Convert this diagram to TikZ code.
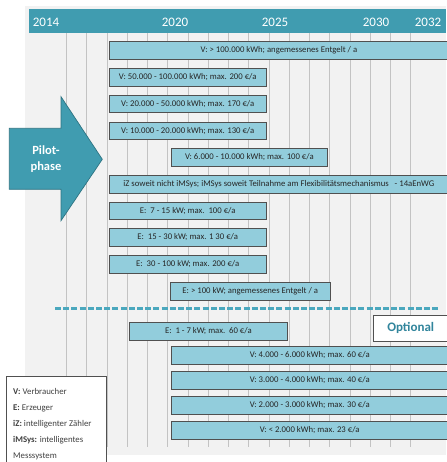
\documentclass[tikz,border=0pt]{standalone}
\usepackage{fontspec}
\setmainfont{Carlito}
\usepackage{tikz}

\definecolor{panelgray}{RGB}{242,242,242}
\definecolor{headteal}{RGB}{64,156,176}
\definecolor{arrowedge}{RGB}{45,115,130}
\definecolor{barblue}{RGB}{146,205,220}
\definecolor{bargray}{RGB}{80,80,80}
\definecolor{gridgray}{RGB}{195,195,195}
\definecolor{dashteal}{RGB}{75,168,190}
\definecolor{optteal}{RGB}{49,133,156}
\definecolor{keygray}{RGB}{64,64,64}

\begin{document}
\begin{tikzpicture}[x=1pt,y=1pt]
\tikzstyle{every node}+=[inner sep=0pt]
\tikzstyle{bar}=[draw=bargray, line width=0.8pt, fill=barblue, minimum height=17.7pt, anchor=west, text=black!85, font=\fontsize{8.7}{10}\selectfont]
\tikzstyle{year}=[text=white, font=\fontsize{13}{15}\selectfont]
\useasboundingbox (0,0) rectangle (446,-462);
% panel and time axis
\fill [panelgray] (25,-6) rectangle (446,-455);
\fill [headteal] (29.3,-9) rectangle (446,-33.3);
\draw (46,-22) node [year] (y2014) {2014};
\draw (175,-22) node [year] (y2020) {2020};
\draw (275,-22) node [year] (y2025) {2025};
\draw (376,-22) node [year] (y2030) {2030};
\draw (428,-22) node [year] (y2032) {2032};
\foreach \i in {0,...,17}
  \draw [gridgray, line width=1pt] (66.7+20.25*\i,-33.3) -- (66.7+20.25*\i,-447);
% pilot phase
\draw [arrowedge, fill=headteal, line width=0.7pt] (9.3,-128.3) -- (61,-128.3) -- (61,-96.7) -- (102.3,-159.3) -- (61,-220.7) -- (61,-189.3) -- (9.3,-189.3) -- cycle;
\draw (46,-159.3) node [text=white, align=center, font=\bfseries\fontsize{12.5}{16.3}\selectfont] (pilot) {Pilot-\\phase};
% bars
\node [bar, minimum width=339pt] (v100k) at (109,-50.5) {V: > 100.000 kWh; angemessenes Entgelt / a};
\node [bar, minimum width=156.7pt] (v50k) at (109,-77.3) {V: 50.000 - 100.000 kWh; max. 200 €/a};
\node [bar, minimum width=156.7pt] (v20k) at (109,-104) {V: 20.000 - 50.000 kWh; max. 170 €/a};
\node [bar, minimum width=156.7pt] (v10k) at (109,-131) {V: 10.000 - 20.000 kWh; max. 130 €/a};
\node [bar, minimum width=156.6pt] (v6k) at (170.7,-157.2) {V: 6.000 - 10.000 kWh; max. 100 €/a};
\node [bar, minimum width=339pt] (iz) at (109,-184.3) {iZ soweit nicht iMSys; iMSys soweit Teilnahme am Flexibilitätsmechanismus\ \ \ - 14aEnWG};
\node [bar, minimum width=156.7pt] (e7) at (109,-211) {E:\ \ 7 - 15 kW; max.\ \ 100 €/a};
\node [bar, minimum width=156.7pt] (e15) at (109,-237.5) {E:\ \ 15 - 30 kW; max. 1 30 €/a};
\node [bar, minimum width=156.7pt] (e30) at (109,-264.2) {E:\ \ 30 - 100 kW; max. 200 €/a};
\node [bar, minimum width=160.3pt] (e100) at (169.7,-291.2) {E: > 100 kW; angemessenes Entgelt / a};
% optional part
\draw [dashteal, line width=3pt, dash pattern=on 6pt off 2.2pt] (55,-308.3) -- (439.3,-308.3);
\node [draw=bargray, line width=0.8pt, fill=white, minimum width=74pt, minimum height=25.7pt, anchor=north west, text=optteal, font=\bfseries\fontsize{13}{15}\selectfont] (opt) at (373.3,-315) {Optional};
\node [bar, minimum width=157.4pt] (e1) at (129.3,-331.2) {E:\ \ 1 - 7 kW; max.\ \ 60 €/a};
\node [bar, minimum width=277.3pt] (v4k) at (170.7,-355.5) {V: 4.000 - 6.000 kWh; max. 60 €/a};
\node [bar, minimum width=277.3pt] (v3k) at (170.7,-380.5) {V: 3.000 - 4.000 kWh; max. 40 €/a};
\node [bar, minimum width=277.3pt] (v2k) at (170.7,-405.2) {V: 2.000 - 3.000 kWh; max. 30 €/a};
\node [bar, minimum width=277.3pt] (v0k) at (170.7,-430.2) {V: < 2.000 kWh; max. 23 €/a};
% key
\draw [bargray, fill=white, line width=0.8pt] (6.7,-376.7) rectangle (106.7,-470);
\node [anchor=base west, align=left, text=keygray, font=\fontsize{8.8}{16}\selectfont] (key) at (13,-458.5) {\textbf{V:} Verbraucher\\\textbf{E:} Erzeuger\\\textbf{iZ:} intelligenter Zähler\\\textbf{iMSys:} intelligentes\\Messsystem};
\end{tikzpicture}
\end{document}
